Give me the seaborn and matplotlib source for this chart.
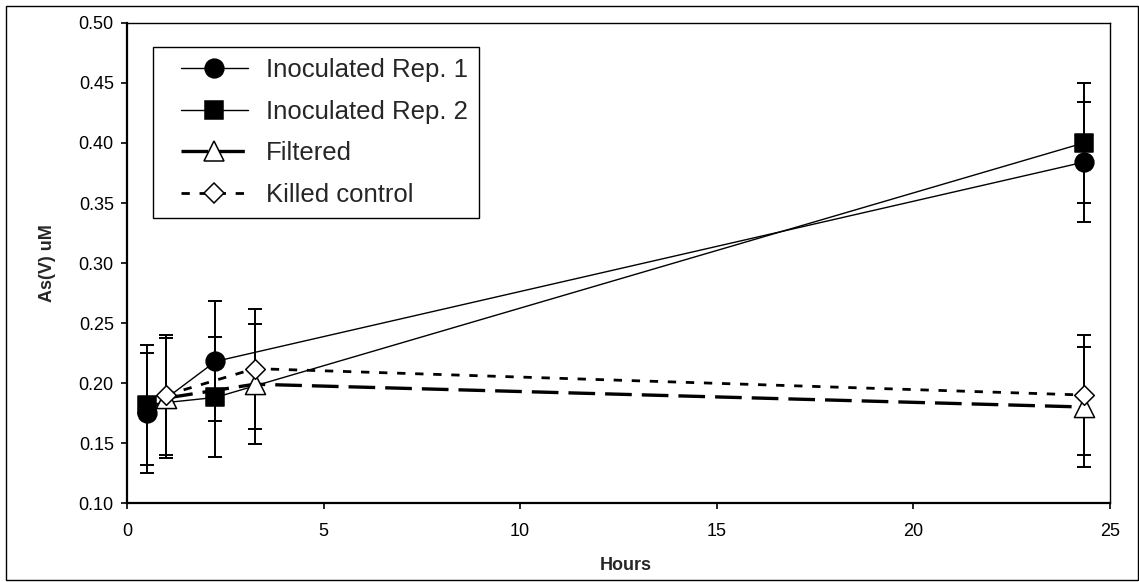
import matplotlib
matplotlib.use("Agg")
import matplotlib.pyplot as plt
from matplotlib.lines import Line2D
from matplotlib.legend_handler import HandlerLine2D
from matplotlib.patches import Rectangle
from matplotlib.ticker import FormatStrFormatter
import numpy as np
import pandas as pd
import seaborn as sns

# Sampling times (hours) for each treatment
hours_rep1 = [0.5, 2.25, 24.33]
hours_rep2 = [0.5, 2.25, 24.33]
hours_filtered = [1.0, 3.25, 24.33]
hours_killed = [1.0, 3.25, 24.33]

# As(V) concentrations (uM)
as_rep1 = [0.175, 0.218, 0.384]
as_rep2 = [0.182, 0.188, 0.400]
as_filtered = [0.1875, 0.199, 0.180]
as_killed = [0.190, 0.212, 0.190]

# Error bar half-widths (uM)
err_rep1 = [0.05, 0.05, 0.05]
err_rep2 = [0.05, 0.05, 0.05]
err_filtered = [0.05, 0.05, 0.05]
err_killed = [0.05, 0.05, 0.05]

series_names = ["Inoculated Rep. 1", "Inoculated Rep. 2", "Filtered", "Killed control"]
x_ticks = [0, 5, 10, 15, 20, 25]
y_ticks = [0.10, 0.15, 0.20, 0.25, 0.30, 0.35, 0.40, 0.45, 0.50]

sns.set_style("white")
plt.rcParams["font.family"] = ["Liberation Sans", "DejaVu Sans"]

frames = []
for name, h, v, e in zip(series_names,
                         [hours_rep1, hours_rep2, hours_filtered, hours_killed],
                         [as_rep1, as_rep2, as_filtered, as_killed],
                         [err_rep1, err_rep2, err_filtered, err_killed]):
    frames.append(pd.DataFrame({"Hours": h, "AsV": v, "err": e, "series": name}))
df = pd.concat(frames, ignore_index=True)

styles = {
    "Inoculated Rep. 1": dict(lw=1.0, ls="-", marker="o", ms=13.5, fc="black"),
    "Inoculated Rep. 2": dict(lw=1.0, ls="-", marker="s", ms=13.0, fc="black"),
    "Filtered": dict(lw=2.4, ls=(0, (8, 3)), marker="^", ms=14.5, fc="white"),
    "Killed control": dict(lw=2.0, ls=(0, (3, 3.5)), marker="D", ms=10.0, fc="white"),
}

fig = plt.figure(figsize=(11.39, 5.82), dpi=100)
ax = fig.add_axes([0.1115, 0.1357, 0.9745 - 0.1115, 0.9605 - 0.1357])

for name in series_names:
    st = styles[name]
    sub = df[df["series"] == name]
    # connecting line
    sns.lineplot(data=sub, x="Hours", y="AsV", ax=ax, color="black",
                 linewidth=st["lw"], linestyle=st["ls"], estimator=None,
                 sort=False, zorder=2)
    # error bars
    ax.errorbar(sub["Hours"], sub["AsV"], yerr=sub["err"], fmt="none",
                ecolor="black", elinewidth=1.4, capsize=4.7, capthick=1.4,
                zorder=3)

for name in series_names:
    st = styles[name]
    sub = df[df["series"] == name]
    sns.scatterplot(data=sub, x="Hours", y="AsV", ax=ax, marker=st["marker"],
                    s=st["ms"] ** 2, color=st["fc"], edgecolor="black",
                    linewidth=1.1, zorder=4, legend=False)

ax.set_xlim(0, 25)
ax.set_ylim(0.10, 0.50)
ax.set_xticks(x_ticks)
ax.set_yticks(y_ticks)
ax.yaxis.set_major_formatter(FormatStrFormatter("%.2f"))
ax.tick_params(axis="both", direction="out", length=4, width=1.2,
               colors="black", labelsize=13)
ax.tick_params(axis="x", pad=10.5)
ax.tick_params(axis="y", pad=5.5)
ax.tick_params(left=True, bottom=True)

for side in ["left", "bottom"]:
    ax.spines[side].set_linewidth(1.6)
    ax.spines[side].set_color("black")
for side in ["top", "right"]:
    ax.spines[side].set_linewidth(1.0)
    ax.spines[side].set_color("black")

ax.set_xlabel("Hours", fontsize=13, fontweight="bold")
ax.set_ylabel("As(V) uM", fontsize=13, fontweight="bold")
ax.xaxis.set_label_coords(0.507, -0.113)
ax.yaxis.set_label_coords(-0.072, 0.5)

handles = []
for name in series_names:
    st = styles[name]
    handles.append(Line2D([], [], color="black", linewidth=st["lw"],
                          linestyle=st["ls"], marker=st["marker"],
                          markersize=st["ms"], markerfacecolor=st["fc"],
                          markeredgecolor="black", markeredgewidth=1.1))

leg = ax.legend(handles, series_names, loc="upper left",
                bbox_to_anchor=(0.0264, 0.95), borderaxespad=0,
                fontsize=18.5, frameon=True, fancybox=False, shadow=False,
                framealpha=1, edgecolor="black", borderpad=0.42,
                handlelength=3.27, handletextpad=0.7, labelspacing=0.69,
                handler_map={Line2D: HandlerLine2D(xpad=0.66)})
leg.get_frame().set_linewidth(1.0)

fig.add_artist(Rectangle((5.5 / 1139, 2 / 582), (1137.5 - 5.5) / 1139,
                         (576 - 2) / 582, transform=fig.transFigure,
                         fill=False, edgecolor="black", linewidth=1.0))

fig.savefig("out.png", dpi=100)
